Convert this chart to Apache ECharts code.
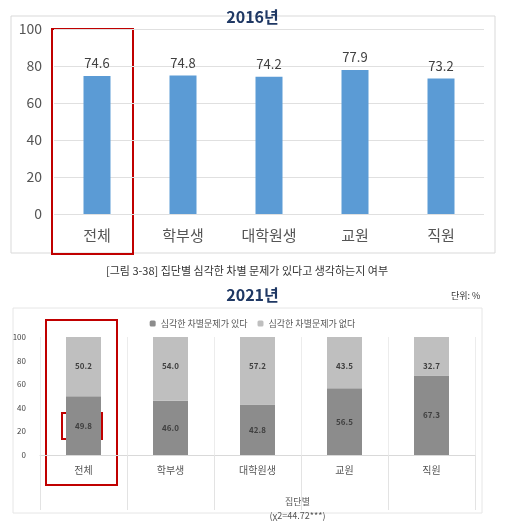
<!DOCTYPE html>
<html><head><meta charset="utf-8">
<script src="https://cdn.jsdelivr.net/npm/echarts@6/dist/echarts.min.js"></script>
<style>html,body{margin:0;padding:0;background:#fff}#c{width:505px;height:528px}</style>
</head><body><div id="c"></div>
<script>
const categories = ['전체','학부생','대학원생','교원','직원'];
const values2016 = [74.6,74.8,74.2,77.9,73.2];
const yes2021 = [49.8,46.0,42.8,56.5,67.3];
const no2021 = [50.2,54.0,57.2,43.5,32.7];
const yTicks = [0,20,40,60,80,100];
const F = '"Noto Sans CJK KR","Noto Sans",sans-serif';
const chart = echarts.init(document.getElementById('c'));
chart.setOption({
  animation:false,
  textStyle:{fontFamily:F},
  title:[
    {text:'2016년',left:'center',top:4,textStyle:{fontSize:16,fontWeight:'bold',color:'#1f3864',fontFamily:F}},
    {text:'2021년',left:'center',top:282,textStyle:{fontSize:16,fontWeight:'bold',color:'#1f3864',fontFamily:F}},
    {text:'단위: %',left:446,top:286,textStyle:{fontSize:9,fontWeight:'normal',color:'#333',fontFamily:F}}
  ],
  legend:{top:314,left:'center',itemWidth:6,itemHeight:6,itemGap:10,textStyle:{fontSize:9,color:'#555'},
    data:['심각한 차별문제가 있다','심각한 차별문제가 없다']},
  grid:[
    {left:54,right:21,top:29,height:185},
    {left:40,right:30,top:337,height:118}
  ],
  xAxis:[
    {gridIndex:0,type:'category',data:categories,axisLine:{show:false},axisTick:{show:false},
      axisLabel:{fontSize:15,color:'#555',margin:14}},
    {gridIndex:1,type:'category',data:categories,axisLine:{lineStyle:{color:'#d9d9d9'}},
      axisTick:{show:true,length:55,interval:0,lineStyle:{color:'#e3e3e3'}},
      splitLine:{show:true,interval:0,lineStyle:{color:'#ececec'}},
      axisLabel:{fontSize:10,color:'#555',margin:10},
      name:'집단별\n(χ2=44.72***)',nameLocation:'middle',nameGap:40,nameTextStyle:{fontSize:9,color:'#555',lineHeight:14,padding:[0,0,0,80]}}
  ],
  yAxis:[
    {gridIndex:0,type:'value',min:0,max:100,interval:20,axisLine:{show:false},axisTick:{show:false},
      axisLabel:{fontSize:14,color:'#555',margin:12},splitLine:{lineStyle:{color:'#e0e0e0'}}},
    {gridIndex:1,type:'value',min:0,max:100,interval:20,axisLine:{show:false},axisTick:{show:false},
      axisLabel:{fontSize:8,color:'#444',margin:14},splitLine:{show:false}}
  ],
  series:[
    {type:'bar',xAxisIndex:0,yAxisIndex:0,data:values2016,barWidth:27,itemStyle:{color:'#5b9bd5'},
      label:{show:true,position:'top',fontSize:13,color:'#404040',distance:6}},
    {name:'심각한 차별문제가 있다',type:'bar',stack:'s',xAxisIndex:1,yAxisIndex:1,data:yes2021,barWidth:35,
      itemStyle:{color:'#8c8c8c'},label:{show:true,position:'inside',fontSize:8,fontWeight:'bold',color:'#404040',formatter:p=>p.value.toFixed(1)}},
    {name:'심각한 차별문제가 없다',type:'bar',stack:'s',xAxisIndex:1,yAxisIndex:1,data:no2021,barWidth:35,
      itemStyle:{color:'#bfbfbf'},label:{show:true,position:'insideTop',distance:25,fontSize:8,fontWeight:'bold',color:'#404040',formatter:p=>p.value.toFixed(1)}}
  ],
  graphic:[
    {type:'rect',shape:{x:11,y:16,width:484,height:237},style:{fill:'none',stroke:'#d9d9d9',lineWidth:1},silent:true},
    {type:'rect',shape:{x:52,y:29,width:81,height:225},style:{fill:'none',stroke:'#c00000',lineWidth:2},silent:true},
    {type:'text',x:247,y:271,style:{text:'[그림 3-38] 집단별 심각한 차별 문제가 있다고 생각하는지 여부',fontSize:11,fill:'#333',align:'center',verticalAlign:'middle',fontFamily:F}},
    {type:'rect',shape:{x:13,y:308,width:469,height:205},style:{fill:'none',stroke:'#e6e6e6',lineWidth:1},silent:true},
    {type:'rect',shape:{x:46,y:320,width:71,height:165},style:{fill:'none',stroke:'#c00000',lineWidth:2},silent:true},
    {type:'rect',shape:{x:62,y:413,width:40,height:26},style:{fill:'none',stroke:'#c00000',lineWidth:2},silent:true}
  ]
});
</script></body></html>
